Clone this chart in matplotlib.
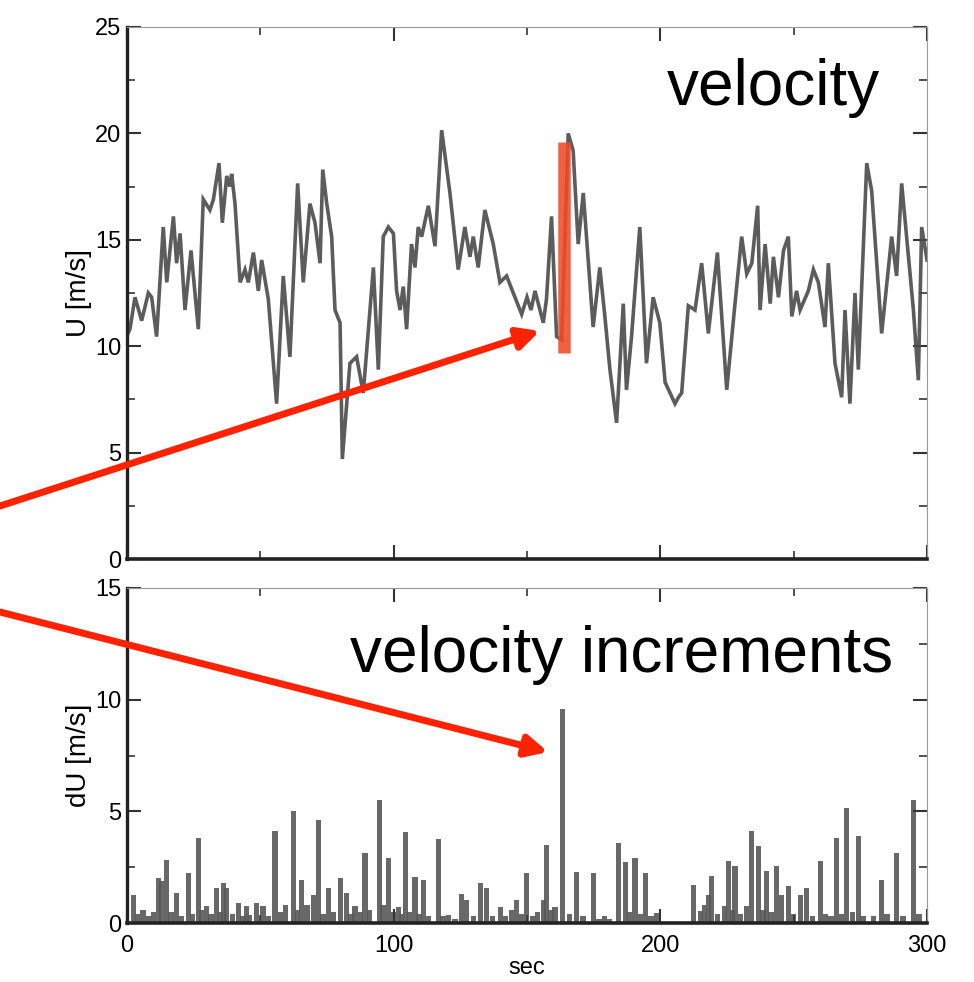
import matplotlib
matplotlib.use("Agg")
import matplotlib.pyplot as plt
from matplotlib.ticker import MultipleLocator

plt.rcParams['font.family'] = ['Liberation Sans', 'DejaVu Sans']

# velocity series U(t) [m/s]
u_time = [0, 1.1, 3, 5.5, 8, 9.25, 11.1, 13.6, 14.9, 17.4, 18.6, 19.9, 21.75, 24, 26.75,
          28.6, 31.1, 32.4, 34.5, 35.75, 37.4, 38.6, 39.25, 40.5, 42.4, 44.25, 45.5, 47.4,
          49.25, 50.5, 53, 56.1, 58.6, 61.1, 64, 66.1, 68.6, 70.5, 72.4, 73.4, 74.9, 76.75,
          78, 79.9, 80.75, 83.6, 86.1, 88.6, 92.4, 94.25, 96.1, 98, 99.9, 101.1, 102.4,
          103.6, 104.85, 106.7, 108, 109.2, 110.5, 113, 115.5, 118, 121.1, 124.2, 126.7,
          128.6, 129.85, 131.7, 134.2, 137.35, 139.85, 142.35, 144.85, 148, 150, 151.5,
          153, 156.1, 157.3, 159.2, 161.1, 163, 165.45, 167.3, 169.2, 171.1, 174.8, 177.3,
          179.2, 181.1, 183.6, 186.1, 187.3, 189.2, 192.3, 194.8, 197.3, 199.8, 201.8,
          205.5, 206.8, 208, 210.5, 213, 215.5, 218, 221.4, 224.9, 228, 230.5, 232.4,
          234.3, 236.5, 237.4, 239.3, 241.2, 242.4, 244.3, 246.2, 248, 249.3, 251.1,
          252.4, 255.5, 257.4, 259.25, 261.75, 263, 265.5, 268, 269.25, 271.1, 273,
          274.25, 277.4, 279.25, 283, 286.75, 288.6, 290.5, 294.9, 296.75, 298, 300]
u_vals = [10.5, 10.8, 12.3, 11.2, 12.5, 12.3, 10.45, 15.6, 13.0, 16.1, 13.9, 15.3, 11.7, 14.5, 10.8,
          16.9, 16.4, 16.9, 18.6, 15.8, 18.0, 17.5, 18.1, 16.7, 13.0, 13.6, 13.0, 14.4,
          12.6, 14.05, 12.2, 7.3, 13.3, 9.5, 17.65, 13.0, 16.7, 15.8, 13.9, 18.3, 16.7, 15.15,
          11.7, 11.1, 4.7, 9.2, 9.5, 7.8, 13.7, 8.9, 15.15, 15.6, 15.3, 12.6, 11.7,
          12.8, 10.8, 14.8, 13.7, 15.6, 15.15, 16.6, 14.7, 20.15, 17.2, 13.6, 15.6,
          14.2, 15.15, 13.7, 16.4, 14.8, 13.0, 13.3, 12.5, 11.5, 12.3, 11.7,
          12.6, 11.1, 12.2, 16.1, 10.45, 10.3, 20.0, 19.2, 14.8, 17.2, 10.9, 13.7,
          11.4, 8.9, 6.4, 12.0, 7.95, 10.45, 15.6, 9.2, 12.3, 11.1, 8.3,
          7.3, 7.6, 7.8, 11.9, 11.7, 13.9, 10.6, 14.4, 7.95, 12.0, 15.15, 13.4,
          13.9, 16.6, 11.7, 14.8, 12.0, 14.2, 12.3, 14.5, 15.15, 11.4, 12.6,
          11.7, 12.6, 13.6, 13.0, 10.9, 13.9, 9.2, 7.6, 11.7, 7.3, 12.5,
          8.9, 18.6, 17.3, 10.6, 15.15, 13.3, 17.65, 11.7, 8.4, 15.6, 14.05]

# velocity increments dU(t) [m/s]
du_time = [2.4, 4, 6, 8, 10, 11.75, 13, 14.9, 16.5, 18.6, 20.5, 23, 24.5, 26.75, 28, 29.9, 31.5,
           33.6, 35, 36.1, 37.4, 39.5, 41.75, 43.5, 44.9, 46, 48.6, 51, 53, 55.5, 57.5, 59.5,
           62.4, 64, 65.5, 67.5, 69.9, 71.75, 73.5, 75.5, 77.5, 79.9, 82.4, 84, 85.5, 87.5,
           89.25, 91, 94.6, 96, 98, 100, 101.8, 103, 104.6, 106, 108, 109.5, 111.1, 113,
           116.8, 118.5, 120.5, 123, 125.5, 127.4, 130, 132.4, 134.9, 137, 139.9, 142, 144.3,
           146.1, 148, 149.9, 152, 154, 156.1, 157.4, 159, 160.5, 163.4, 166, 168.6, 171,
           174.9, 177, 179, 181, 184.3, 186.8, 188.5, 190.5, 192.5, 194.3, 196.5, 198.6,
           212.4, 214.9, 216.5, 218, 219.2, 221.5, 224.2, 225.5, 227, 228, 230, 232.4, 234.2,
           236.7, 238.5, 239.9, 241.5, 243.4, 245.5, 248, 250, 252.4, 254.9, 257, 259.9, 262,
           264, 266.1, 268, 269.9, 272, 274.2, 276, 280, 283, 285, 288.6, 291, 294.9, 297]
du_vals = [1.27, 0.4, 0.6, 0.3, 0.5, 2.0, 1.87, 2.84, 0.5, 1.34, 0.3, 2.24, 0.4, 3.8, 0.6, 0.75, 0.4,
           1.57, 0.5, 1.79, 1.57, 0.4, 0.9, 0.3, 0.75, 0.37, 0.9, 0.75, 0.3, 4.1, 0.5, 0.8,
           5.0, 0.6, 1.94, 0.8, 1.27, 4.63, 0.4, 1.57, 0.5, 2.0, 1.34, 0.4, 0.75, 0.5,
           3.13, 0.6, 5.5, 0.8, 2.9, 0.5, 0.73, 0.4, 4.08, 0.5, 2.07, 0.4, 1.92, 0.3,
           3.78, 0.3, 0.36, 0.2, 1.32, 1.03, 0.3, 1.77, 1.55, 0.3, 0.73, 0.3, 0.58,
           1.03, 0.4, 2.22, 0.3, 0.5, 1.03, 3.48, 0.6, 0.73, 9.6, 0.4, 2.29, 0.3,
           2.22, 0.2, 0.3, 0.2, 3.56, 2.74, 0.5, 2.89, 0.4, 2.22, 0.3, 0.43,
           1.72, 0.52, 0.8, 1.27, 2.09, 0.4, 0.75, 2.76, 0.6, 2.54, 0.4, 0.75, 4.1,
           3.43, 0.6, 2.31, 0.5, 2.54, 1.27, 1.64, 0.4, 1.27, 1.57, 0.3, 2.76, 0.4,
           0.3, 3.8, 0.4, 5.15, 0.5, 3.88, 0.3, 0.3, 1.94, 0.4, 3.13, 0.3, 5.52, 0.4]

# highlighted jump (red bar) in the velocity panel
jump_time = 163.9
jump_range = [9.7, 19.6]

W, H = 974, 982
fig = plt.figure(figsize=(W / 100, H / 100), dpi=100)

ax1 = fig.add_axes([127 / W, 1 - 559 / H, 800 / W, 532 / H])
ax2 = fig.add_axes([127 / W, 1 - 923 / H, 800 / W, 335 / H])

line_color = '#4a4a4a'
ax1.plot(u_time, u_vals, color=line_color, lw=2.6, solid_joinstyle='miter', alpha=0.9)
ax1.plot([jump_time, jump_time], jump_range, color='#F04A28', lw=9, alpha=0.88,
         solid_capstyle='butt', zorder=5)
ax2.bar(du_time, du_vals, width=1.9, color='#585858', linewidth=0, alpha=0.9)

for ax in (ax1, ax2):
    ax.set_xlim(0, 300)
    ax.xaxis.set_major_locator(MultipleLocator(100))
    ax.xaxis.set_minor_locator(MultipleLocator(50))
    ax.yaxis.set_major_locator(MultipleLocator(5))
    ax.yaxis.set_minor_locator(MultipleLocator(2.5))
    ax.tick_params(which='both', direction='in', top=True, right=True,
                   labelsize=17, color='#333333')
    ax.tick_params(axis='y', pad=4)
    ax.tick_params(axis='x', pad=9)
    ax.tick_params(which='major', length=10, width=1.5)
    ax.tick_params(which='minor', length=6, width=1.2)
    ax.spines['left'].set_linewidth(2.4)
    ax.spines['bottom'].set_linewidth(2.6)
    ax.spines['left'].set_color('#222222')
    ax.spines['bottom'].set_color('#222222')
    ax.spines['right'].set_color('#999999')
    ax.spines['top'].set_color('#999999')

ax1.set_ylim(0, 25)
ax1.tick_params(labelbottom=False)
ax2.set_ylim(0, 15)

ax1.set_ylabel('U [m/s]', fontsize=20, labelpad=2)
ax2.set_ylabel('dU [m/s]', fontsize=20, labelpad=2)
ax2.set_xlabel('sec', fontsize=17, labelpad=0)

fig.text(880 / W, 1 - 88 / H, 'velocity', fontsize=46, ha='right', va='center')
fig.text(893 / W, 1 - 655 / H, 'velocity increments', fontsize=46, ha='right', va='center')

arrow_kw = dict(arrowstyle='-|>', color='#FF2200', lw=5, mutation_scale=32,
                shrinkA=0, shrinkB=0)
fig.add_artist(matplotlib.patches.FancyArrowPatch(
    (0 / W, 1 - 506 / H), (540 / W, 1 - 331 / H), transform=fig.transFigure, **arrow_kw))
fig.add_artist(matplotlib.patches.FancyArrowPatch(
    (0 / W, 1 - 612 / H), (548 / W, 1 - 752 / H), transform=fig.transFigure, **arrow_kw))

fig.savefig('out.png', dpi=100)
